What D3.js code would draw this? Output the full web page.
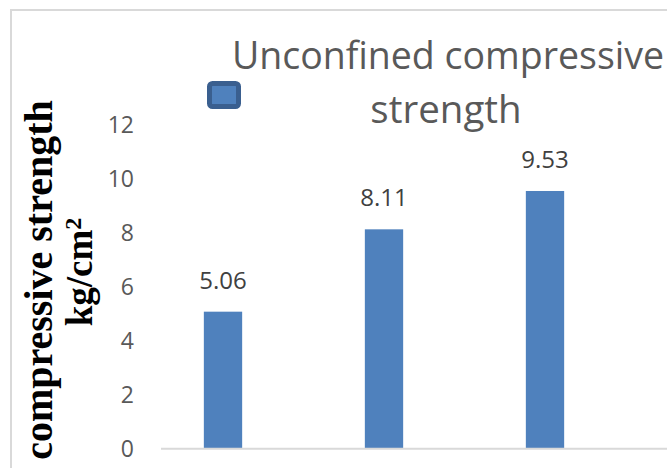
<!DOCTYPE html>
<html><head><meta charset="utf-8">
<script src="https://cdn.jsdelivr.net/npm/d3@7"></script>
<style>html,body{margin:0;padding:0;background:#fff;overflow:hidden}</style>
</head><body>
<svg id="c" width="667" height="468"></svg>
<script>
const categories = ["Sample 1", "Sample 2", "Sample 3"];
const values = [5.06, 8.11, 9.53];
const yTicks = [0, 2, 4, 6, 8, 10, 12];
const titleLines = ["Unconfined compressive", "strength"];
const yTitleLines = ["compressive strength", "kg/cm"];

const svg = d3.select("#c");

// chart area border (cropped on right/bottom)
svg.append("rect").attr("x", 11).attr("y", 10).attr("width", 700).attr("height", 500)
  .attr("fill", "#fff").attr("stroke", "#d9d9d9").attr("stroke-width", 2);

const y = d3.scaleLinear().domain([0, 12]).range([448.3, 124.3]);
const x = d3.scaleBand().domain(categories).range([142.5, 625.5])
  .paddingInner(0.762).paddingOuter(0.381);

// y axis labels
const yAxis = d3.axisLeft(y).tickValues(yTicks).tickSize(0).tickPadding(0);
const gy = svg.append("g").attr("transform", "translate(134,0)").call(yAxis);
gy.select(".domain").remove();
gy.selectAll("text").attr("fill", "#595959").style("font-family", "'Open Sans'")
  .style("font-size", "23px").attr("dy", "0.36em");

// bars
svg.append("g").selectAll("rect").data(values).join("rect")
  .attr("x", (d, i) => x(categories[i]))
  .attr("width", x.bandwidth())
  .attr("y", d => y(d))
  .attr("height", d => y(0) - y(d))
  .attr("fill", "#4f81bd");

// x axis line
svg.append("line").attr("x1", 161).attr("x2", 667).attr("y1", y(0) + 0.5).attr("y2", y(0) + 0.5)
  .attr("stroke", "#d9d9d9").attr("stroke-width", 2);

// data labels
svg.append("g").selectAll("text").data(values).join("text")
  .attr("x", (d, i) => x(categories[i]) + x.bandwidth() / 2)
  .attr("y", d => y(d) - 23)
  .attr("text-anchor", "middle")
  .attr("fill", "#404040")
  .style("font-family", "'Open Sans'").style("font-size", "24px")
  .text(d => d.toFixed(2));

// title
svg.append("g").selectAll("text").data(titleLines).join("text")
  .attr("x", (d, i) => i === 0 ? 448 : 446).attr("y", (d, i) => 69 + i * 53.5)
  .attr("text-anchor", "middle").attr("fill", "#595959")
  .style("font-family", "'Open Sans'").style("font-size", (d, i) => i === 0 ? "37.5px" : "38.5px")
  .text(d => d);

// legend symbol
svg.append("rect").attr("x", 209.5).attr("y", 83.5).attr("width", 29).attr("height", 23)
  .attr("rx", 3).attr("fill", "#4f81bd").attr("stroke", "#3a5f8f").attr("stroke-width", 5);

// y axis title
const yt = svg.append("g").attr("transform", "translate(0,280) rotate(-90)");
yt.append("text").attr("x", 0).attr("y", 52).attr("text-anchor", "middle")
  .attr("fill", "#000").style("font-family", "'Liberation Serif'").style("font-weight", "bold")
  .style("font-size", "40px").text(yTitleLines[0]);
const t2 = yt.append("text").attr("x", 8).attr("y", 92).attr("text-anchor", "middle")
  .attr("fill", "#000").style("font-family", "'Liberation Serif'").style("font-weight", "bold")
  .style("font-size", "37px");
t2.append("tspan").text(yTitleLines[1]);
t2.append("tspan").attr("dy", "-0.45em").style("font-size", "24px").text("2");
</script>
</body></html>
